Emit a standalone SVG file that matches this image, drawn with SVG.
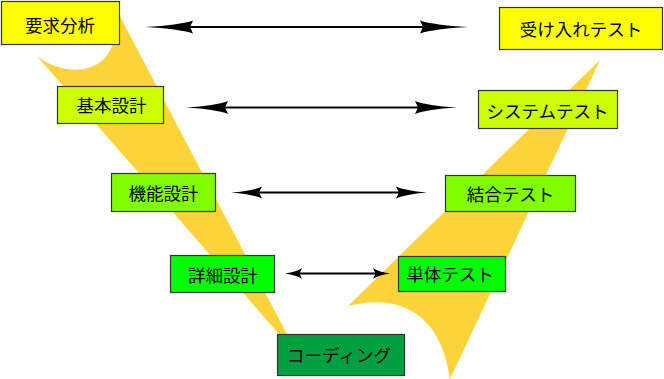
<svg xmlns="http://www.w3.org/2000/svg" width="664" height="379" viewBox="0 0 664 379">
<style>
.band{fill:#fdd33a;stroke:none}
.box rect{stroke:#333;stroke-width:1.2}
.box text{font-family:"Noto Sans CJK JP","Noto Sans CJK SC",sans-serif;font-size:17.5px;fill:#000;text-anchor:middle;dominant-baseline:central}
.y{fill:#ffff00}.yg{fill:#ccff00}.lg{fill:#80ff00}.g{fill:#00ff00}.dg{fill:#00a040}
.conn line{stroke:#000;stroke-width:2;fill:none}
</style>
<defs>
<marker id="h1" markerUnits="userSpaceOnUse" viewBox="0 -7 48 14" refX="24" refY="0" markerWidth="48" markerHeight="14" orient="auto-start-reverse"><path d="M48,0 Q14,-1.8 0,-6.5 L3,0 L0,6.5 Q14,1.8 48,0 Z" fill="#000"/></marker>
<marker id="h2" markerUnits="userSpaceOnUse" viewBox="0 -7 42 14" refX="21" refY="0" markerWidth="42" markerHeight="14" orient="auto-start-reverse"><path d="M42,0 Q12,-1.8 0,-6.5 L3,0 L0,6.5 Q12,1.8 42,0 Z" fill="#000"/></marker>
<marker id="h3" markerUnits="userSpaceOnUse" viewBox="0 -7 31 14" refX="15.5" refY="0" markerWidth="31" markerHeight="14" orient="auto-start-reverse"><path d="M31,0 Q9,-1.8 0,-6 L3,0 L0,6 Q9,1.8 31,0 Z" fill="#000"/></marker>
<marker id="h4" markerUnits="userSpaceOnUse" viewBox="0 -7 17 14" refX="8.5" refY="0" markerWidth="17" markerHeight="14" orient="auto-start-reverse"><path d="M17,0 Q5,-1.8 0,-5.5 L2.5,0 L0,5.5 Q5,1.8 17,0 Z" fill="#000"/></marker>
</defs>
<g id="bands">
<path class="band" d="M37,56 C60,75 105,78 114,40 L114,5 L290,340 L284,340 Z"/>
<path class="band" d="M600,60 L450,379 C440,305 390,295 348,306 Z"/>
</g>
<g id="connectors" class="conn">
<line x1="169" y1="27" x2="444" y2="27" marker-start="url(#h1)" marker-end="url(#h1)"/>
<line x1="207" y1="107.5" x2="436" y2="107.5" marker-start="url(#h2)" marker-end="url(#h2)"/>
<line x1="246.5" y1="192.5" x2="411.5" y2="192.5" marker-start="url(#h3)" marker-end="url(#h3)"/>
<line x1="293.5" y1="273.5" x2="381.5" y2="273.5" marker-start="url(#h4)" marker-end="url(#h4)"/>
</g>
<g id="req" class="box"><rect class="y" x="1.5" y="1.5" width="118" height="43"/><text x="60" y="24.5">要求分析</text></g>
<g id="acc" class="box"><rect class="y" x="499.5" y="7.5" width="163" height="42"/><text x="581" y="28.5">受け入れテスト</text></g>
<g id="basic" class="box"><rect class="yg" x="57.5" y="86.5" width="106" height="37"/><text x="111.5" y="104.5">基本設計</text></g>
<g id="sys" class="box"><rect class="yg" x="478.5" y="90.5" width="139" height="38"/><text x="547.5" y="110">システムテスト</text></g>
<g id="func" class="box"><rect class="lg" x="111.5" y="173.5" width="104" height="38"/><text x="163.5" y="192">機能設計</text></g>
<g id="integ" class="box"><rect class="lg" x="445.5" y="175.5" width="130" height="36"/><text x="510.5" y="193.5">結合テスト</text></g>
<g id="detail" class="box"><rect class="g" x="170.5" y="255.5" width="104" height="37"/><text x="223" y="274">詳細設計</text></g>
<g id="unit" class="box"><rect class="g" x="398.5" y="256.5" width="107" height="35"/><text x="450" y="273">単体テスト</text></g>
<g id="coding" class="box"><rect class="dg" x="277.5" y="334.5" width="127" height="41"/><text x="339" y="354.5">コーディング</text></g>
</svg>
